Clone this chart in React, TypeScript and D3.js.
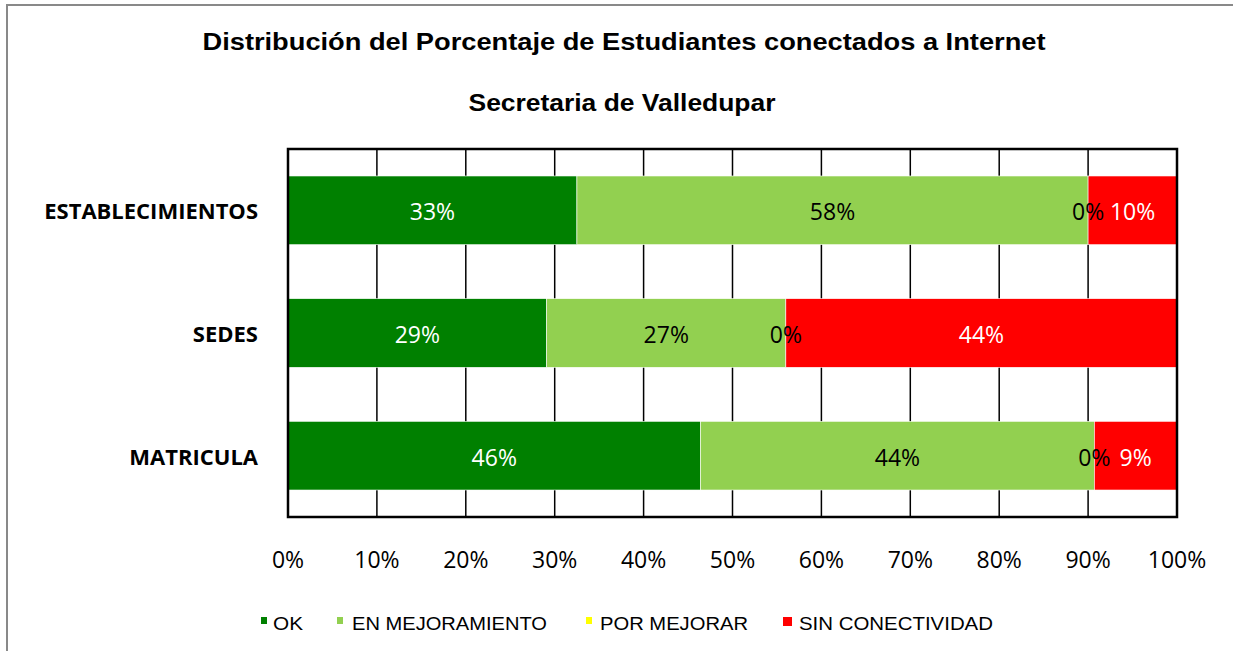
import React from 'react';
import * as d3 from 'd3';

const width = 1233;
const height = 651;
const plot = { left: 288, right: 1177, top: 149, bottom: 517 };

const categories = ['ESTABLECIMIENTOS', 'SEDES', 'MATRICULA'];
const seriesNames = ['OK', 'EN MEJORAMIENTO', 'POR MEJORAR', 'SIN CONECTIVIDAD'];
const okValues = [32.5, 29.1, 46.4];
const enMejoramientoValues = [57.5, 26.9, 44.3];
const porMejorarValues = [0, 0, 0];
const sinConectividadValues = [10.0, 44.0, 9.3];
const tickValues = [0, 10, 20, 30, 40, 50, 60, 70, 80, 90, 100];

const colors = ['#008000', '#92D050', '#FFFF00', '#FF0000'];
const labelColors = ['#ffffff', '#000000', '#000000', '#ffffff'];

const legendX = [261, 337, 586, 783];
const legendTextX = [273, 352, 600, 799];
const legendTextW = [30, 195, 148, 194];

const App = () => {
  const x = d3.scaleLinear().domain([0, 100]).range([plot.left, plot.right]);
  const y = d3
    .scaleBand()
    .domain(categories)
    .range([plot.top, plot.bottom])
    .paddingInner(0.44)
    .paddingOuter(0.22);

  const rows = categories.map((c, i) => ({
    category: c,
    OK: okValues[i],
    'EN MEJORAMIENTO': enMejoramientoValues[i],
    'POR MEJORAR': porMejorarValues[i],
    'SIN CONECTIVIDAD': sinConectividadValues[i],
  }));
  const stacked = d3.stack().keys(seriesNames)(rows as any);

  const dataFont = "'Open Sans', sans-serif";
  const titleFont = "'Liberation Sans', Arial, sans-serif";

  return (
    <svg
      width={width}
      height={height}
      style={{ position: 'absolute', left: 0, top: 0, background: '#fff' }}
    >
      <rect x={7} y={5} width={1300} height={700} fill="#fff" stroke="#898989" strokeWidth={2} />

      <text
        x={624}
        y={50}
        textAnchor="middle"
        fontFamily={titleFont}
        fontWeight="bold"
        fontSize={23}
        textLength={843}
        lengthAdjust="spacingAndGlyphs"
      >
        Distribución del Porcentaje de Estudiantes conectados a Internet
      </text>
      <text
        x={622}
        y={111}
        textAnchor="middle"
        fontFamily={titleFont}
        fontWeight="bold"
        fontSize={23}
        textLength={307}
        lengthAdjust="spacingAndGlyphs"
      >
        Secretaria de Valledupar
      </text>

      {/* vertical gridlines */}
      {tickValues.slice(1, -1).map((t) => (
        <line
          key={t}
          x1={x(t)}
          x2={x(t)}
          y1={plot.top}
          y2={plot.bottom}
          stroke="#000"
          strokeWidth={1.5}
        />
      ))}

      {/* bars */}
      {stacked.map((s, si) =>
        s.map((d, i) => (
          <rect
            key={seriesNames[si] + i}
            x={x(d[0])}
            y={y(categories[i])}
            width={x(d[1]) - x(d[0])}
            height={y.bandwidth()}
            fill={colors[si]}
            stroke={d[1] - d[0] > 0 ? '#ffffff' : 'none'}
            strokeWidth={0.6}
          />
        ))
      )}

      {/* data labels */}
      {stacked.map((s, si) =>
        s.map((d, i) => (
          <text
            key={'l' + seriesNames[si] + i}
            x={x((d[0] + d[1]) / 2)}
            y={(y(categories[i]) as number) + y.bandwidth() / 2 + 10}
            textAnchor="middle"
            fontFamily={dataFont}
            fontSize={23}
            fill={labelColors[si]}
          >
            {Math.round(d[1] - d[0])}%
          </text>
        ))
      )}

      {/* plot frame */}
      <rect
        x={plot.left}
        y={plot.top}
        width={plot.right - plot.left}
        height={plot.bottom - plot.top}
        fill="none"
        stroke="#000"
        strokeWidth={2.5}
      />

      {/* category labels */}
      {categories.map((c) => (
        <text
          key={c}
          x={258}
          y={(y(c) as number) + y.bandwidth() / 2 + 9}
          textAnchor="end"
          fontFamily={dataFont}
          fontWeight="bold"
          fontSize={22}
        >
          {c}
        </text>
      ))}

      {/* x tick labels */}
      {tickValues.map((t) => (
        <text
          key={'t' + t}
          x={x(t)}
          y={568}
          textAnchor="middle"
          fontFamily={dataFont}
          fontSize={23}
        >
          {t}%
        </text>
      ))}

      {/* legend */}
      {seriesNames.map((n, i) => (
        <g key={'lg' + n}>
          <rect x={legendX[i]} y={617} width={i === 3 ? 9 : 6} height={i === 3 ? 9 : 7} fill={colors[i]} />
          <text
            x={legendTextX[i]}
            y={630}
            fontFamily={titleFont}
            fontSize={18}
            textLength={legendTextW[i]}
            lengthAdjust="spacingAndGlyphs"
          >
            {n}
          </text>
        </g>
      ))}
    </svg>
  );
};

export default App;
